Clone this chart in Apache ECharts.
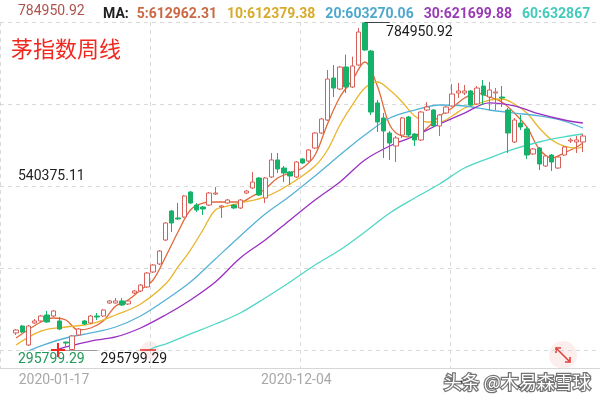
<!DOCTYPE html>
<html>
<head>
<meta charset="utf-8">
<script src="https://cdn.jsdelivr.net/npm/echarts@6/dist/echarts.min.js"></script>
<style>
html, body { margin: 0; padding: 0; background: #fff; }
#chart { width: 600px; height: 399px; }
</style>
</head>
<body>
<div id="chart"></div>
<script>
const titleText = '茅指数周线';
const watermark = '头条 @木易森雪球';
const startDate = '2020-01-17';
const skipDates = ['2020-01-31'];
const shownDates = ['2020-01-17', '2020-12-04'];
const priceMin = 295799.29;
const priceMax = 784950.92;
const yTickLabels = ['295799.29', '540375.11', '784950.92'];
const maLabels = ['5:612962.31', '10:612379.38', '20:603270.06', '30:621699.88', '60:632867'];

// 周K: [open, close, low, high]
const candles = [
  [321200, 325600, 318200, 327100], [331600, 322600, 321200, 333100], [303300, 331600, 301800, 333100],
  [336100, 339100, 334600, 342000], [339100, 346500, 337600, 348000], [348000, 337600, 336100, 354000],
  [346500, 354000, 345000, 355500], [339100, 327100, 325600, 345000], [307700, 306200, 301800, 308000],
  [296500, 316700, 295799.29, 318200], [318200, 327100, 316700, 328600], [339100, 334600, 333100, 340500],
  [336100, 346500, 334600, 348000], [346500, 345000, 340500, 351000], [346500, 355500, 345000, 356900],
  [365900, 368900, 364400, 370400], [365900, 368900, 365000, 373400], [368900, 362900, 361400, 373400],
  [364400, 368900, 362900, 370400], [380800, 383800, 379300, 385300], [383800, 392700, 382300, 394200],
  [389800, 410600, 388300, 412100], [412100, 422600, 410600, 424100], [424100, 443400, 422600, 444900],
  [459800, 485200, 458400, 486700], [503100, 485200, 471800, 504600], [492700, 491200, 489700, 515000],
  [494100, 525500, 492700, 527000], [531400, 515000, 513500, 532900], [512000, 504600, 501600, 515000],
  [509100, 506100, 497100, 510600], [512000, 529900, 510600, 531400], [528400, 529900, 527000, 538900],
  [509100, 510600, 492700, 512000], [515000, 519500, 513500, 521000], [512000, 507600, 506100, 513500],
  [507600, 519500, 506100, 521000], [529900, 532900, 528400, 534400], [537400, 546300, 535900, 561300],
  [552300, 527000, 525500, 553800], [522500, 552300, 515000, 553800], [553800, 579200, 552300, 589600],
  [579200, 565700, 559800, 589600], [567200, 559800, 546300, 570200], [561300, 555300, 541900, 562700],
  [553800, 576200, 552300, 577700], [580600, 574700, 573200, 582100], [577700, 594100, 576200, 595600],
  [597000, 619400, 595600, 620900], [619400, 640300, 617900, 641800], [638800, 699900, 637300, 713400],
  [701400, 686500, 673100, 720800], [685000, 717800, 683500, 719300], [717800, 688000, 679100, 736200],
  [688000, 719300, 686500, 733200], [720800, 770000, 719300, 776000], [783500, 743200, 741700, 784950.92],
  [741700, 650700, 646300, 743200], [664200, 635800, 620900, 668600], [641800, 622400, 582100, 649200],
  [619400, 604500, 579200, 622400], [600000, 612000, 576200, 614900], [616400, 641800, 612000, 643300],
  [643300, 616400, 613500, 644800], [617900, 609000, 600000, 619400], [609000, 650700, 607500, 652200],
  [653700, 658200, 652200, 665600], [653700, 629900, 628400, 655200], [629900, 646300, 614900, 647800],
  [649200, 658200, 647800, 659700], [659700, 677600, 658200, 692500], [679100, 682100, 671600, 694000],
  [679100, 682100, 676100, 691000], [682100, 661200, 659700, 683500], [662700, 686500, 661200, 689500],
  [689500, 676100, 661200, 698500], [673100, 683500, 653700, 695500], [679100, 680600, 653700, 686500],
  [673100, 671600, 658200, 689500], [653700, 619400, 589600, 656700], [606000, 638800, 604500, 641800],
  [634300, 628400, 623900, 646300], [625400, 586600, 580600, 628400], [588100, 595600, 586600, 597000],
  [597000, 573200, 564200, 598500], [570200, 585100, 568700, 586600], [586600, 576200, 562700, 588100],
  [567200, 583600, 565700, 585100], [586600, 598500, 585100, 600000], [607500, 609000, 604500, 612000],
  [606000, 609000, 589600, 614900], [606000, 614900, 591100, 617900]
];

// 均线 [周序号, 值]
const ma5 = [[0, 313700], [4, 337600], [6, 343500], [8, 340500], [10, 325600], [12, 328600], [14, 339100],
  [16, 361400], [18, 370400], [20, 385300], [22, 400200], [24, 434500], [26, 471800], [28, 504600],
  [30, 515000], [32, 516500], [34, 516500], [36, 516500], [38, 525500], [40, 535900], [42, 552300],
  [44, 559800], [46, 567200], [48, 586600], [50, 633000], [52, 673100], [54, 698500], [56, 725300],
  [58, 689500], [60, 631300], [62, 614900], [64, 613500], [66, 626900], [68, 644800], [70, 656700],
  [72, 671600], [74, 679100], [76, 673100], [78, 665600], [80, 649200], [82, 628400], [84, 595600],
  [86, 582100], [88, 589600], [90, 598500], [91, 604500]];
const ma10 = [[0, 303300], [4, 324100], [8, 330100], [12, 334600], [16, 348000], [20, 364400], [24, 394200],
  [26, 419600], [28, 444900], [30, 474800], [32, 504600], [34, 510600], [36, 515000], [40, 524000],
  [44, 543400], [48, 570200], [50, 594100], [52, 631300], [54, 661200], [56, 686500], [58, 695500],
  [60, 683500], [62, 665600], [64, 644800], [66, 635800], [68, 635800], [70, 644800], [72, 656700],
  [74, 662700], [76, 668600], [78, 670100], [80, 662700], [82, 649200], [84, 626900], [86, 609000],
  [88, 600000], [90, 597000], [91, 598500]];
const ma20 = [[0, 286900], [2, 294300], [4, 301800], [8, 313700], [12, 321200], [16, 330100], [20, 346500],
  [24, 370400], [28, 397200], [32, 431500], [36, 465800], [40, 498600], [44, 525500], [48, 555300],
  [52, 586600], [56, 616400], [60, 641800], [64, 653700], [68, 661200], [72, 659700], [76, 653700],
  [80, 649200], [84, 644800], [88, 637300], [91, 626900]];
const ma30 = [[4, 286900], [6, 294300], [8, 300300], [12, 309200], [16, 315200], [20, 328600], [24, 348000],
  [28, 370400], [32, 397200], [36, 433000], [40, 459800], [44, 489700], [48, 519500], [52, 546300],
  [56, 579200], [60, 600000], [64, 614900], [68, 632800], [72, 649200], [76, 664200], [80, 659700],
  [84, 647800], [88, 638800], [91, 634300]];
const ma60 = [[20, 288400], [22, 298800], [24, 304700], [28, 319700], [32, 334600], [36, 351000], [40, 373400],
  [44, 397200], [48, 422600], [52, 444900], [56, 471800], [60, 500100], [64, 522500], [68, 543400],
  [72, 567200], [76, 582100], [80, 595600], [84, 606000], [88, 613500], [91, 617900]];

const maColors = ['#e2693a', '#e9b52c', '#56b2d6', '#9a2fc2', '#4fd7c6'];
const maTextColors = ['#c96a44', '#d6aa2a', '#4ea8cc', '#9a3ab4', '#42cbbd'];

// 周线日期（春节停市周跳过）
const dates = [];
let d = new Date(startDate + 'T00:00:00Z');
while (dates.length < candles.length) {
  const s = d.toISOString().slice(0, 10);
  if (!skipDates.includes(s)) dates.push(s);
  d = new Date(d.getTime() + 7 * 86400000);
}

const fontFamily = 'Roboto, "Noto Sans CJK SC", sans-serif';

const maLine = (name, data, color) => ({
  name: name,
  type: 'line',
  data: data,
  smooth: 0.35,
  connectNulls: true,
  showSymbol: false,
  lineStyle: {color: color, width: 1.3},
  xAxisIndex: 0,
  yAxisIndex: 0,
  silent: true,
  z: 3
});

const legendRich = {k: {color: '#222', fontSize: 14, fontWeight: 'bold', fontFamily: fontFamily, padding: [0, 8, 0, 0]}};
let legendText = '{k|MA:}';
maLabels.forEach((t, i) => {
  legendRich['m' + i] = {color: maTextColors[i], fontSize: 14, fontFamily: fontFamily, padding: [0, 10, 0, 0]};
  legendText += '{m' + i + '|' + t + '}';
});

const chart = echarts.init(document.getElementById('chart'));
chart.setOption({
  animation: false,
  backgroundColor: '#fff',
  title: [
    {text: legendText, left: 98, top: 3, textStyle: {rich: legendRich, fontSize: 14}},
    {text: titleText, left: 6, top: 33, textStyle: {color: '#f0281f', fontSize: 22, fontWeight: 'normal', fontFamily: '"Noto Sans CJK SC", sans-serif'}}
  ],
  grid: [
    {left: 12.9, right: 14, top: 22, bottom: 49},
    {left: 0, right: 0, top: 22, bottom: 31},
    {left: 0, right: 0, top: 22, bottom: 49}
  ],
  xAxis: [
    {
      type: 'category', gridIndex: 0, data: dates, boundaryGap: true, offset: 18,
      axisLine: {show: false}, axisTick: {show: false}, splitLine: {show: false},
      axisLabel: {
        interval: (i, v) => shownDates.includes(v),
        color: '#a8a8a8', fontSize: 14, fontFamily: fontFamily, margin: 6,
        formatter: (v, i) => i === 0 ? '{l|' + v + '}' : v,
        rich: {l: {color: '#a8a8a8', fontSize: 14, fontFamily: fontFamily, padding: [0, 0, 0, 76]}}
      }
    },
    {
      type: 'value', gridIndex: 1, min: 0, max: 4, interval: 1,
      axisLine: {show: true, lineStyle: {color: '#d6d6d6'}}, axisTick: {show: false}, axisLabel: {show: false},
      splitLine: {show: true, lineStyle: {color: '#d9d9d9', type: [4, 4]}}
    },
    {type: 'value', gridIndex: 2, min: 0, max: 1, show: false}
  ],
  yAxis: [
    {type: 'value', gridIndex: 0, min: priceMin, max: priceMax, show: false},
    {type: 'value', gridIndex: 1, min: 0, max: 1, show: false},
    {
      type: 'value', gridIndex: 2, min: 0, max: 4, interval: 1,
      axisLine: {show: false}, axisTick: {show: false},
      splitLine: {show: true, lineStyle: {color: '#d9d9d9', type: [4, 4]}},
      axisLabel: {
        inside: true, margin: 18, verticalAlign: 'middle',
        formatter: v => v === 4 ? '{t|' + yTickLabels[2] + '}' : v === 2 ? '{m|' + yTickLabels[1] + '}' : v === 0 ? '{b|' + yTickLabels[0] + '}' : '',
        rich: {
          t: {color: '#ad524c', fontSize: 14, fontFamily: fontFamily, lineHeight: 16, padding: [0, 0, 22, 0]},
          m: {color: '#222', fontSize: 14, fontFamily: fontFamily, lineHeight: 16, padding: [0, 0, 20, 0]},
          b: {color: '#21985a', fontSize: 14, fontFamily: fontFamily, lineHeight: 16, padding: [18, 0, 0, 0]}
        }
      }
    }
  ],
  series: [
    {
      type: 'candlestick',
      xAxisIndex: 0,
      yAxisIndex: 0,
      data: candles,
      barWidth: '78%',
      itemStyle: {color: '#ffffff', color0: '#17b26a', borderColor: '#d6605a', borderColor0: '#17b26a', borderWidth: 1},
      z: 4,
      markLine: {
        silent: true,
        symbol: ['none', 'none'],
        label: {show: false},
        data: [
          [{coord: [dates[56], priceMax], lineStyle: {color: '#444', width: 1, type: 'solid'}}, {coord: [dates[60], priceMax]}],
          [{coord: [dates[7], priceMin], lineStyle: {color: '#9a9a9a', width: 1, type: 'solid'}}, {coord: [dates[13], priceMin]}]
        ]
      },
      markPoint: {
        silent: true,
        symbol: 'circle',
        symbolSize: 1,
        itemStyle: {color: 'rgba(0,0,0,0)'},
        label: {show: true, position: 'right', distance: 2, color: '#1a1a1a', fontSize: 14, fontFamily: fontFamily, formatter: '{b}'},
        data: [
          {name: yTickLabels[2], coord: [dates[59], priceMax], label: {offset: [0, 10]}},
          {name: yTickLabels[0], coord: [dates[13], priceMin], label: {offset: [0, 9], distance: 3}}
        ]
      }
    },
    maLine('MA5', ma5, maColors[0]),
    maLine('MA10', ma10, maColors[1]),
    maLine('MA20', ma20, maColors[2]),
    maLine('MA30', ma30, maColors[3]),
    maLine('MA60', ma60, maColors[4])
  ],
  graphic: [
    {type: 'polyline', shape: {points: [[51, 350], [65, 350]]}, style: {stroke: '#ee2a22', lineWidth: 2}, silent: true, z: 10},
    {type: 'polyline', shape: {points: [[58, 343], [58, 357]]}, style: {stroke: '#ee2a22', lineWidth: 2}, silent: true, z: 10},
    {type: 'circle', shape: {cx: 150, cy: 350, r: 9}, style: {fill: 'rgba(240,90,90,0.10)'}, silent: true},
    {type: 'polyline', shape: {points: [[140, 350], [156, 350]]}, style: {stroke: '#ee2a22', lineWidth: 1.5}, silent: true, z: 10},
    {type: 'circle', shape: {cx: 563, cy: 355, r: 14}, style: {fill: 'rgba(240,90,90,0.10)'}, silent: true},
    {type: 'polyline', shape: {points: [[556, 348], [570, 362]]}, style: {stroke: '#e0403a', lineWidth: 1.6}, silent: true},
    {type: 'polyline', shape: {points: [[556, 353], [556, 348], [561, 348]]}, style: {stroke: '#e0403a', lineWidth: 1.6, fill: null}, silent: true},
    {type: 'polyline', shape: {points: [[565, 362], [570, 362], [570, 357]]}, style: {stroke: '#e0403a', lineWidth: 1.6, fill: null}, silent: true},
    {
      type: 'text', right: 8, bottom: 7, silent: true, z: 10,
      style: {text: watermark, fill: '#ffffff', stroke: 'rgba(0,0,0,0.55)', lineWidth: 2.5, font: '18px "Noto Sans CJK SC", sans-serif'}
    }
  ]
});
</script>
</body>
</html>
